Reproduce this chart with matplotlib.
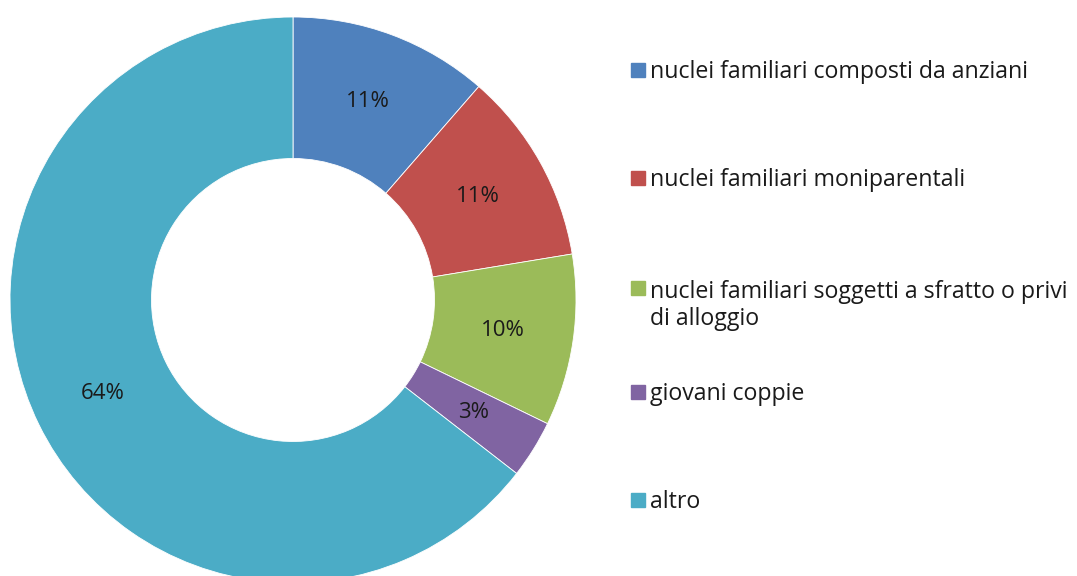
import numpy as np
import matplotlib.pyplot as plt
from matplotlib.patches import Rectangle

labels = ["nuclei familiari composti da anziani",
          "nuclei familiari moniparentali",
          "nuclei familiari soggetti a sfratto o privi\ndi alloggio",
          "giovani coppie",
          "altro"]
values = [11.4, 11.0, 9.8, 3.3, 64.5]
pct_labels = ["11%", "11%", "10%", "3%", "64%"]
colors = ["#4F81BD", "#C0504D", "#9BBB59", "#8064A2", "#4BACC6"]

plt.rcParams['font.family'] = ['Open Sans', 'DejaVu Sans']

W, H = 1077, 576
fig = plt.figure(figsize=(W / 100, H / 100), dpi=100)

# donut: center (293, 300) px from top, outer radius 283 px
cx, cy, R = 293, 300, 283
ax = fig.add_axes([(cx - R) / W, (H - cy - R) / H, 2 * R / W, 2 * R / H])
wedges, _ = ax.pie(values, colors=colors, startangle=90, counterclock=False,
                   radius=1, wedgeprops=dict(width=0.5, edgecolor='white', linewidth=0.6))
for w in wedges:
    w.set_clip_on(False)
ax.set_xlim(-1, 1)
ax.set_ylim(-1, 1)
ax.set_aspect('equal')
ax.axis('off')

# percentage labels at mid-ring
total = sum(values)
start = 90.0
for v, t in zip(values, pct_labels):
    mid = np.deg2rad(start - v / total * 360 / 2)
    start -= v / total * 360
    ax.text(0.75 * np.cos(mid), 0.75 * np.sin(mid), t, ha='center', va='center',
            fontsize=16, color='#1a1a1a')

# legend, drawn by hand so the wrapped label keeps its square on the first line
line_gap = 29
baselines = [78, 186, 296, 400, 508]
for lab, c, b in zip(labels, colors, baselines):
    fig.add_artist(Rectangle((631 / W, (H - b + 1) / H), 14 / W, 14 / H,
                             transform=fig.transFigure, color=c))
    # va='baseline' pins the last line, so push wrapped labels down
    last = b + line_gap * lab.count('\n')
    fig.text(650 / W, (H - last) / H, lab, ha='left', va='baseline',
             fontsize=16.7, color='#1a1a1a', linespacing=1.17)

fig.savefig('out.png', dpi=100)
